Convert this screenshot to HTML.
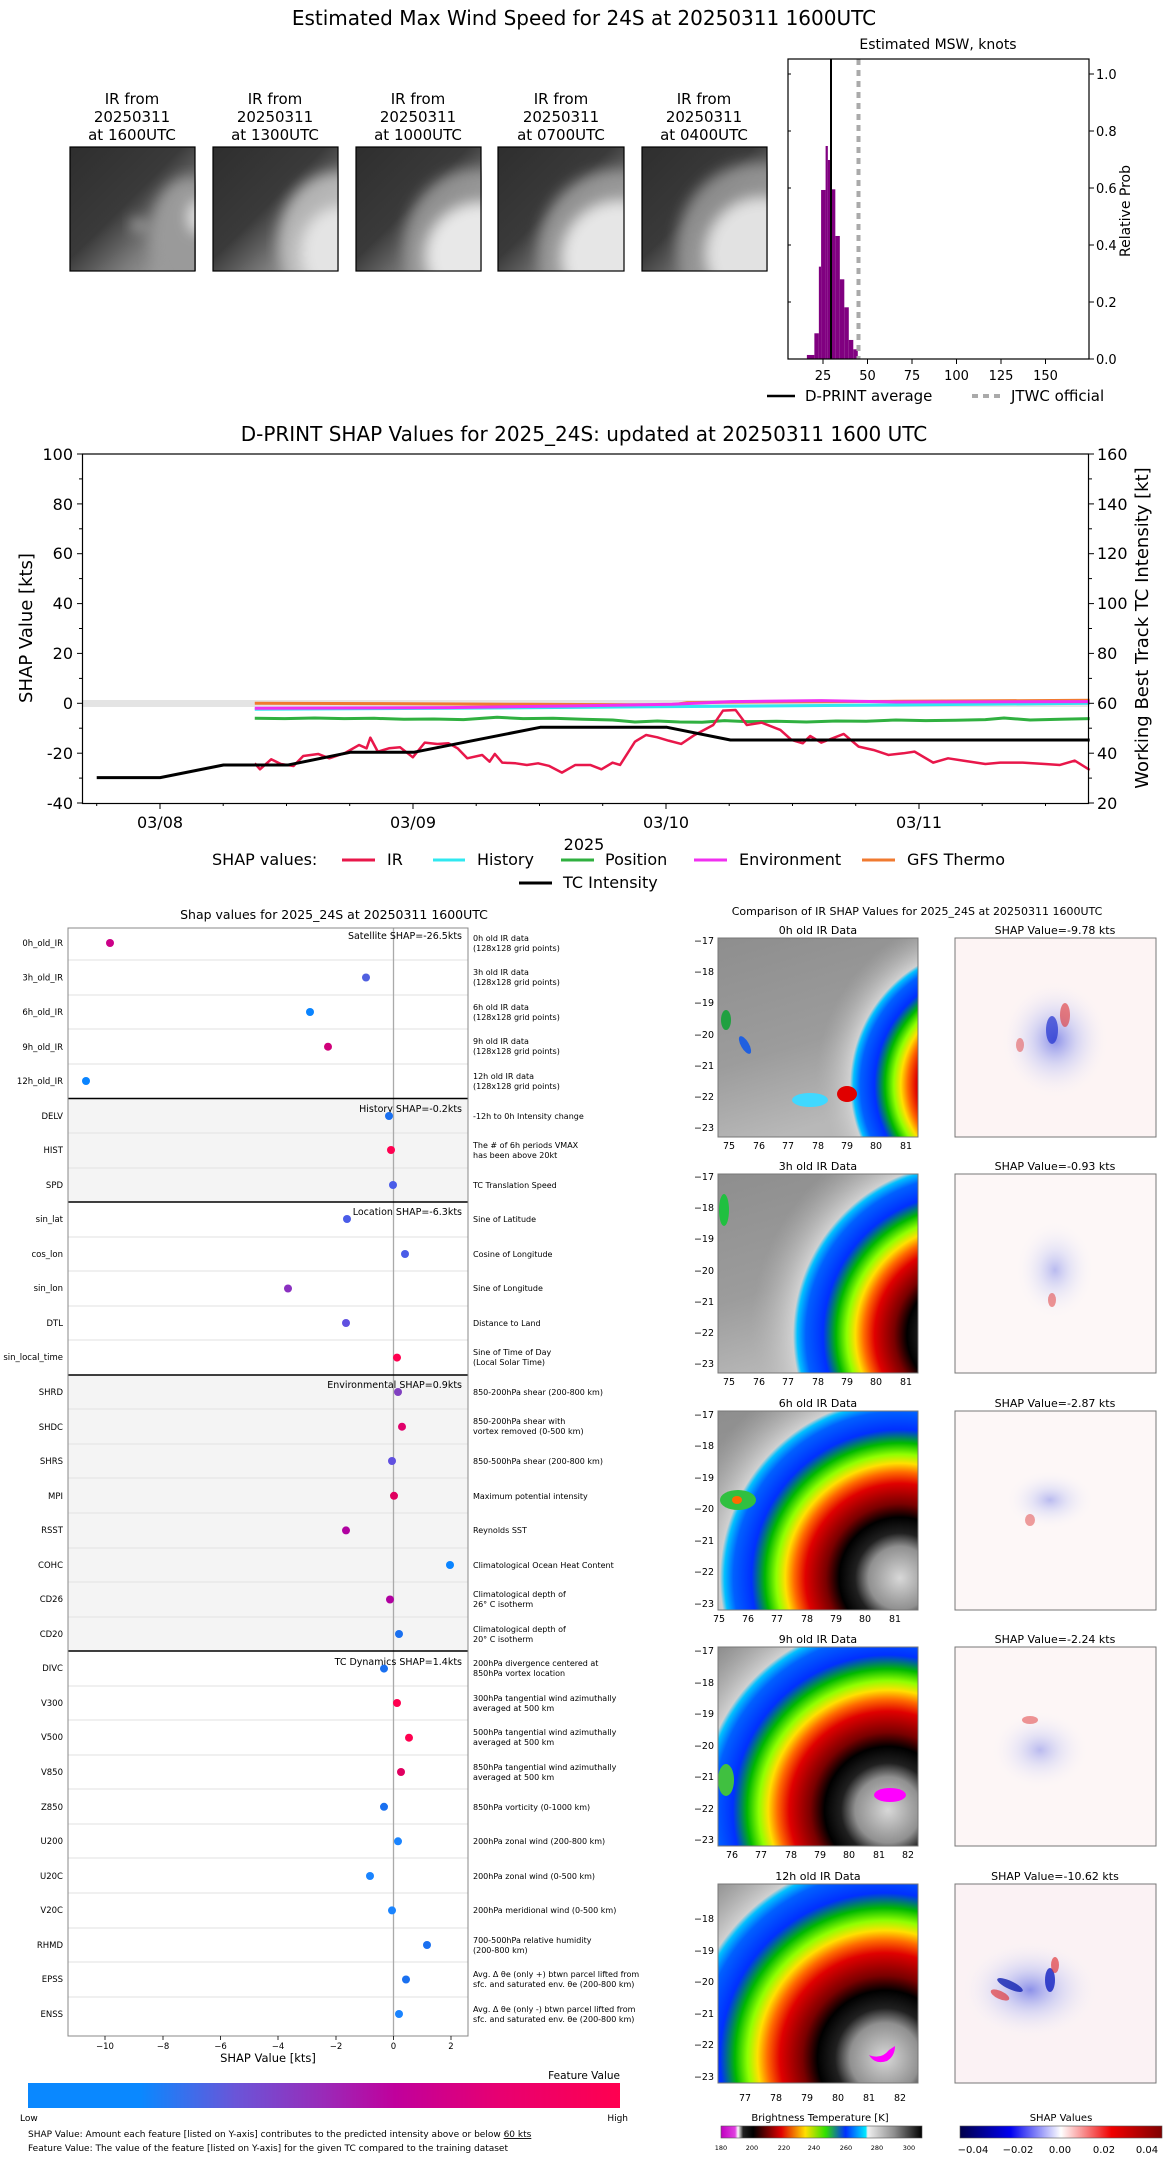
<!DOCTYPE html>
<html><head><meta charset="utf-8"><style>
html,body{margin:0;padding:0;background:#fff;width:1168px;height:2158px;overflow:hidden}
svg{display:block}
text{font-family:"DejaVu Sans","Liberation Sans",sans-serif;fill:#000}
</style></head><body>
<svg width="1168" height="2158" viewBox="0 0 1168 2158" xmlns="http://www.w3.org/2000/svg">
<defs>
<filter id="blur"><feGaussianBlur stdDeviation="7"/></filter>
<linearGradient id="thumb" x1="0" y1="0" x2="1" y2="1"><stop offset="0" stop-color="#2e2e2e"/><stop offset="0.45" stop-color="#3a3a3a"/><stop offset="0.7" stop-color="#7a7a7a"/><stop offset="1" stop-color="#b8b8b8"/></linearGradient>
<linearGradient id="irbg" x1="0" y1="0" x2="0.3" y2="1"><stop offset="0" stop-color="#8e8e8e"/><stop offset="0.6" stop-color="#9c9c9c"/><stop offset="1" stop-color="#b8b8b8"/></linearGradient>
<radialGradient id="storm"><stop offset="0" stop-color="#d8d8d8"/><stop offset="0.14" stop-color="#909090"/><stop offset="0.2" stop-color="#202020"/><stop offset="0.27" stop-color="#000"/><stop offset="0.33" stop-color="#7a0000"/><stop offset="0.42" stop-color="#e00000"/><stop offset="0.47" stop-color="#ff6a00"/><stop offset="0.51" stop-color="#ffe000"/><stop offset="0.55" stop-color="#90ff00"/><stop offset="0.6" stop-color="#00b800"/><stop offset="0.66" stop-color="#0030ff"/><stop offset="0.74" stop-color="#0060ff"/><stop offset="0.78" stop-color="#00c0ff"/><stop offset="0.8" stop-color="#d0d0d0"/><stop offset="1" stop-color="#b0b0b0" stop-opacity="0"/></radialGradient>
<radialGradient id="shapr"><stop offset="0" stop-color="#3040e0" stop-opacity="0.55"/><stop offset="0.4" stop-color="#8090f0" stop-opacity="0.3"/><stop offset="1" stop-color="#fff" stop-opacity="0"/></radialGradient>
<linearGradient id="fv" x1="0" x2="1"><stop offset="0" stop-color="#0a88ff"/><stop offset="0.19" stop-color="#0a88ff"/><stop offset="0.35" stop-color="#6a55d8"/><stop offset="0.5" stop-color="#9a2ab8"/><stop offset="0.62" stop-color="#c0009c"/><stop offset="0.8" stop-color="#e80070"/><stop offset="1" stop-color="#ff0050"/></linearGradient>
<linearGradient id="bt" x1="0" x2="1"><stop offset="0" stop-color="#c000c0"/><stop offset="0.07" stop-color="#e040e0"/><stop offset="0.085" stop-color="#ffffff"/><stop offset="0.11" stop-color="#202020"/><stop offset="0.16" stop-color="#000"/><stop offset="0.3" stop-color="#e00000"/><stop offset="0.42" stop-color="#ffe000"/><stop offset="0.52" stop-color="#30e000"/><stop offset="0.62" stop-color="#0030ff"/><stop offset="0.72" stop-color="#00e8ff"/><stop offset="0.73" stop-color="#f0f0f0"/><stop offset="0.86" stop-color="#909090"/><stop offset="1" stop-color="#000"/></linearGradient>
<linearGradient id="sv" x1="0" x2="1"><stop offset="0" stop-color="#00004a"/><stop offset="0.25" stop-color="#0000f0"/><stop offset="0.5" stop-color="#ffffff"/><stop offset="0.75" stop-color="#f00000"/><stop offset="1" stop-color="#800000"/></linearGradient>
<clipPath id="c1"><rect x="718" y="938" width="200" height="199"/></clipPath>
<clipPath id="c2"><rect x="718" y="1174" width="200" height="199"/></clipPath>
<clipPath id="c3"><rect x="718" y="1411" width="200" height="199"/></clipPath>
<clipPath id="c4"><rect x="718" y="1647" width="200" height="199"/></clipPath>
<clipPath id="c5"><rect x="718" y="1884" width="200" height="199"/></clipPath>
<clipPath id="ct"><rect x="0" y="0" width="126" height="124"/></clipPath>
</defs>

<!-- ===== TOP ===== -->
<text x="584" y="25" font-size="20" text-anchor="middle">Estimated Max Wind Speed for 24S at 20250311 1600UTC</text>
<g font-size="15" text-anchor="middle">
<text x="132" y="104">IR from</text><text x="132" y="122">20250311</text><text x="132" y="140">at 1600UTC</text>
<text x="275" y="104">IR from</text><text x="275" y="122">20250311</text><text x="275" y="140">at 1300UTC</text>
<text x="418" y="104">IR from</text><text x="418" y="122">20250311</text><text x="418" y="140">at 1000UTC</text>
<text x="561" y="104">IR from</text><text x="561" y="122">20250311</text><text x="561" y="140">at 0700UTC</text>
<text x="704" y="104">IR from</text><text x="704" y="122">20250311</text><text x="704" y="140">at 0400UTC</text>
</g>
<g transform="translate(70,147)"><g clip-path="url(#ct)"><rect width="125" height="124" fill="url(#thumb)"/><g filter="url(#blur)"><ellipse cx="120" cy="90" rx="40" ry="60" fill="#9a9a9a"/><ellipse cx="128" cy="70" rx="10" ry="16" fill="#e0e0e0"/><ellipse cx="68" cy="78" rx="6" ry="5" fill="#d0d0d0"/></g></g><rect width="125" height="124" fill="none" stroke="#000" stroke-width="1.2"/></g>
<g transform="translate(213,147)"><g clip-path="url(#ct)"><rect width="125" height="124" fill="url(#thumb)"/><g filter="url(#blur)"><ellipse cx="125" cy="95" rx="60" ry="70" fill="#c8c8c8" opacity="0.8"/><ellipse cx="128" cy="105" rx="40" ry="45" fill="#e4e4e4"/></g></g><rect width="125" height="124" fill="none" stroke="#000" stroke-width="1.2"/></g>
<g transform="translate(356,147)"><g clip-path="url(#ct)"><rect width="125" height="124" fill="url(#thumb)"/><g filter="url(#blur)"><ellipse cx="120" cy="100" rx="72" ry="78" fill="#a0a0a0" opacity="0.8"/><ellipse cx="125" cy="108" rx="55" ry="52" fill="#e8e8e8"/></g></g><rect width="125" height="124" fill="none" stroke="#000" stroke-width="1.2"/></g>
<g transform="translate(498,147)"><g clip-path="url(#ct)"><rect width="126" height="124" fill="url(#thumb)"/><g filter="url(#blur)"><ellipse cx="118" cy="105" rx="78" ry="82" fill="#a0a0a0" opacity="0.85"/><ellipse cx="122" cy="110" rx="58" ry="56" fill="#e6e6e6"/></g></g><rect width="126" height="124" fill="none" stroke="#000" stroke-width="1.2"/></g>
<g transform="translate(642,147)"><g clip-path="url(#ct)"><rect width="125" height="124" fill="url(#thumb)"/><g filter="url(#blur)"><ellipse cx="115" cy="100" rx="80" ry="84" fill="#9a9a9a" opacity="0.85"/><ellipse cx="120" cy="106" rx="56" ry="55" fill="#e2e2e2"/></g></g><rect width="125" height="124" fill="none" stroke="#000" stroke-width="1.2"/></g>

<!-- histogram -->
<text x="938" y="49" font-size="14" text-anchor="middle">Estimated MSW, knots</text>
<g transform="matrix(0.7485 0 0 0.3333 0 0)" fill="#800080">
<rect x="1078" y="1065" width="10" height="13"/><rect x="1088" y="1000" width="6" height="78"/><rect x="1094" y="800" width="3" height="278"/><rect x="1097" y="570" width="6" height="508"/><rect x="1103" y="438" width="3" height="640"/><rect x="1106" y="480" width="4" height="598"/><rect x="1110" y="568" width="6" height="510"/><rect x="1116" y="708" width="6" height="370"/><rect x="1122" y="838" width="6" height="240"/><rect x="1128" y="922" width="6" height="156"/><rect x="1134" y="1020" width="6" height="58"/><rect x="1140" y="1048" width="6" height="30"/>
</g>
<line x1="831" y1="59" x2="831" y2="359" stroke="#000" stroke-width="2"/>
<line x1="858.5" y1="59" x2="858.5" y2="359" stroke="#aaa" stroke-width="4" stroke-dasharray="6,5"/>
<rect x="788" y="59" width="301" height="300" fill="none" stroke="#000" stroke-width="1.2"/>
<g stroke="#000" stroke-width="1"><line x1="823" y1="359" x2="823" y2="364"/><line x1="867.5" y1="359" x2="867.5" y2="364"/><line x1="912" y1="359" x2="912" y2="364"/><line x1="956.5" y1="359" x2="956.5" y2="364"/><line x1="1001" y1="359" x2="1001" y2="364"/><line x1="1045.5" y1="359" x2="1045.5" y2="364"/>
<line x1="1089" y1="359" x2="1094" y2="359"/><line x1="1089" y1="302" x2="1094" y2="302"/><line x1="1089" y1="245" x2="1094" y2="245"/><line x1="1089" y1="188" x2="1094" y2="188"/><line x1="1089" y1="131" x2="1094" y2="131"/><line x1="1089" y1="74" x2="1094" y2="74"/>
<line x1="788" y1="302" x2="791" y2="302"/><line x1="788" y1="245" x2="791" y2="245"/><line x1="788" y1="188" x2="791" y2="188"/><line x1="788" y1="131" x2="791" y2="131"/><line x1="788" y1="74" x2="791" y2="74"/></g>
<g font-size="13" text-anchor="middle"><text x="823" y="380">25</text><text x="867.5" y="380">50</text><text x="912" y="380">75</text><text x="956.5" y="380">100</text><text x="1001" y="380">125</text><text x="1045.5" y="380">150</text></g>
<g font-size="13"><text x="1096" y="364">0.0</text><text x="1096" y="307">0.2</text><text x="1096" y="250">0.4</text><text x="1096" y="193">0.6</text><text x="1096" y="136">0.8</text><text x="1096" y="79">1.0</text></g>
<text transform="translate(1130,211) rotate(-90)" font-size="14" text-anchor="middle">Relative Prob</text>
<line x1="767" y1="396" x2="795" y2="396" stroke="#000" stroke-width="2.5"/>
<text x="805" y="401" font-size="15">D-PRINT average</text>
<line x1="972" y1="396" x2="1000" y2="396" stroke="#aaa" stroke-width="4" stroke-dasharray="6,5"/>
<text x="1011" y="401" font-size="15">JTWC official</text>

<!-- ===== SHAP TIME SERIES ===== -->
<text x="584" y="441" font-size="20" text-anchor="middle">D-PRINT SHAP Values for 2025_24S: updated at 20250311 1600 UTC</text>
<rect x="82.5" y="700" width="1005" height="7" fill="#e4e4e4"/>
<g transform="matrix(0.7455 0 0 0.3333 1.3 440)" fill="none" stroke-linejoin="round">
<polyline vector-effect="non-scaling-stroke" stroke="#f07a30" stroke-width="3" points="340,790 500,791 700,793 900,795 920,788 1000,786 1200,784 1460,781"/>
<polyline vector-effect="non-scaling-stroke" stroke="#30e8f0" stroke-width="3" points="340,808 600,805 900,800 1200,795 1460,790"/>
<polyline vector-effect="non-scaling-stroke" stroke="#f030f0" stroke-width="3" points="340,805 600,803 760,798 900,793 980,785 1100,782 1200,786 1460,785"/>
<polyline vector-effect="non-scaling-stroke" stroke="#30b040" stroke-width="3" points="340,835 380,836 420,834 460,836 500,835 540,838 580,837 620,839 665,832 700,836 740,835 780,838 820,840 850,846 880,843 910,846 940,847 970,842 1000,845 1040,844 1080,846 1120,843 1160,844 1200,840 1240,842 1280,841 1320,839 1345,834 1380,840 1420,838 1460,836"/>
<polyline vector-effect="non-scaling-stroke" stroke="#e8174a" stroke-width="2.5" points="340,970 347,988 362,958 375,972 392,978 405,948 425,942 440,955 462,938 480,915 490,925 495,893 505,935 520,925 535,922 552,952 568,908 585,912 600,910 612,925 625,955 645,945 655,965 662,942 672,968 690,970 705,975 720,970 735,978 752,998 770,975 790,975 805,988 820,968 830,975 850,905 865,885 880,892 895,902 912,912 930,885 955,855 968,812 985,810 1000,855 1020,848 1045,870 1060,900 1075,910 1085,888 1100,908 1130,882 1150,920 1170,930 1190,945 1210,940 1225,935 1250,968 1270,955 1290,962 1320,972 1340,968 1370,968 1400,972 1420,975 1440,962 1460,990"/>
<polyline vector-effect="non-scaling-stroke" stroke="#000" stroke-width="3" points="128,1013 213,1013 298,975 385,975 468,937 553,937 723,862 893,862 978,900 1460,900"/>
</g>
<rect x="82.5" y="454" width="1006" height="349.5" fill="none" stroke="#000" stroke-width="1.2"/>
<g stroke="#000" stroke-width="1">
<line x1="77" y1="454" x2="82.5" y2="454"/><line x1="77" y1="503.9" x2="82.5" y2="503.9"/><line x1="77" y1="553.7" x2="82.5" y2="553.7"/><line x1="77" y1="603.6" x2="82.5" y2="603.6"/><line x1="77" y1="653.4" x2="82.5" y2="653.4"/><line x1="77" y1="703.3" x2="82.5" y2="703.3"/><line x1="77" y1="753.2" x2="82.5" y2="753.2"/><line x1="77" y1="803" x2="82.5" y2="803"/>
<line x1="79" y1="478.9" x2="82.5" y2="478.9"/><line x1="79" y1="528.8" x2="82.5" y2="528.8"/><line x1="79" y1="578.6" x2="82.5" y2="578.6"/><line x1="79" y1="628.5" x2="82.5" y2="628.5"/><line x1="79" y1="678.4" x2="82.5" y2="678.4"/><line x1="79" y1="728.2" x2="82.5" y2="728.2"/><line x1="79" y1="778.1" x2="82.5" y2="778.1"/>
<line x1="1088.5" y1="454" x2="1094" y2="454"/><line x1="1088.5" y1="503.9" x2="1094" y2="503.9"/><line x1="1088.5" y1="553.7" x2="1094" y2="553.7"/><line x1="1088.5" y1="603.6" x2="1094" y2="603.6"/><line x1="1088.5" y1="653.4" x2="1094" y2="653.4"/><line x1="1088.5" y1="703.3" x2="1094" y2="703.3"/><line x1="1088.5" y1="753.2" x2="1094" y2="753.2"/><line x1="1088.5" y1="803" x2="1094" y2="803"/>
<line x1="1088.5" y1="478.9" x2="1092" y2="478.9"/><line x1="1088.5" y1="528.8" x2="1092" y2="528.8"/><line x1="1088.5" y1="578.6" x2="1092" y2="578.6"/><line x1="1088.5" y1="628.5" x2="1092" y2="628.5"/><line x1="1088.5" y1="678.4" x2="1092" y2="678.4"/><line x1="1088.5" y1="728.2" x2="1092" y2="728.2"/><line x1="1088.5" y1="778.1" x2="1092" y2="778.1"/>
<line x1="160" y1="803" x2="160" y2="809"/><line x1="413" y1="803" x2="413" y2="809"/><line x1="666" y1="803" x2="666" y2="809"/><line x1="919" y1="803" x2="919" y2="809"/>
<line x1="96.7" y1="803" x2="96.7" y2="806"/><line x1="223.2" y1="803" x2="223.2" y2="806"/><line x1="286.5" y1="803" x2="286.5" y2="806"/><line x1="349.7" y1="803" x2="349.7" y2="806"/><line x1="476.2" y1="803" x2="476.2" y2="806"/><line x1="539.5" y1="803" x2="539.5" y2="806"/><line x1="602.7" y1="803" x2="602.7" y2="806"/><line x1="729.2" y1="803" x2="729.2" y2="806"/><line x1="792.5" y1="803" x2="792.5" y2="806"/><line x1="855.7" y1="803" x2="855.7" y2="806"/><line x1="982.2" y1="803" x2="982.2" y2="806"/><line x1="1045.5" y1="803" x2="1045.5" y2="806"/>
</g>
<g font-size="16" text-anchor="end"><text x="73" y="460">100</text><text x="73" y="510">80</text><text x="73" y="559">60</text><text x="73" y="609">40</text><text x="73" y="659">20</text><text x="73" y="709">0</text><text x="73" y="759">-20</text><text x="73" y="809">-40</text></g>
<g font-size="16"><text x="1097" y="460">160</text><text x="1097" y="510">140</text><text x="1097" y="559">120</text><text x="1097" y="609">100</text><text x="1097" y="659">80</text><text x="1097" y="709">60</text><text x="1097" y="759">40</text><text x="1097" y="809">20</text></g>
<g font-size="16" text-anchor="middle"><text x="160" y="828">03/08</text><text x="413" y="828">03/09</text><text x="666" y="828">03/10</text><text x="919" y="828">03/11</text><text x="584" y="850">2025</text></g>
<text transform="translate(32,628) rotate(-90)" font-size="18" text-anchor="middle">SHAP Value [kts]</text>
<text transform="translate(1148,628) rotate(-90)" font-size="18" text-anchor="middle">Working Best Track TC Intensity [kt]</text>
<g font-size="16">
<text x="212" y="865">SHAP values:</text>
<line x1="342" y1="860" x2="375" y2="860" stroke="#e8174a" stroke-width="3"/><text x="387" y="865">IR</text>
<line x1="433" y1="860" x2="465" y2="860" stroke="#30e8f0" stroke-width="3"/><text x="477" y="865">History</text>
<line x1="561" y1="860" x2="594" y2="860" stroke="#30b040" stroke-width="3"/><text x="605" y="865">Position</text>
<line x1="694" y1="860" x2="727" y2="860" stroke="#f030f0" stroke-width="3"/><text x="739" y="865">Environment</text>
<line x1="862" y1="860" x2="895" y2="860" stroke="#f07a30" stroke-width="3"/><text x="907" y="865">GFS Thermo</text>
<line x1="519" y1="883" x2="552" y2="883" stroke="#000" stroke-width="3"/><text x="563" y="888">TC Intensity</text>
</g>

<!-- ===== LEFT SHAP PANEL ===== -->
<text x="334" y="919" font-size="12.5" text-anchor="middle">Shap values for 2025_24S at 20250311 1600UTC</text>
<rect x="68" y="1098.5" width="400" height="103.5" fill="#f4f4f4"/>
<rect x="68" y="1375" width="400" height="276" fill="#f4f4f4"/>
<g stroke="#e2e2e2" stroke-width="1">
<line x1="68" y1="960" x2="468" y2="960"/><line x1="68" y1="995" x2="468" y2="995"/><line x1="68" y1="1029" x2="468" y2="1029"/><line x1="68" y1="1064" x2="468" y2="1064"/>
<line x1="68" y1="1133" x2="468" y2="1133"/><line x1="68" y1="1168" x2="468" y2="1168"/>
<line x1="68" y1="1237" x2="468" y2="1237"/><line x1="68" y1="1271" x2="468" y2="1271"/><line x1="68" y1="1306" x2="468" y2="1306"/><line x1="68" y1="1340" x2="468" y2="1340"/>
<line x1="68" y1="1409" x2="468" y2="1409"/><line x1="68" y1="1444" x2="468" y2="1444"/><line x1="68" y1="1478" x2="468" y2="1478"/><line x1="68" y1="1513" x2="468" y2="1513"/><line x1="68" y1="1548" x2="468" y2="1548"/><line x1="68" y1="1582" x2="468" y2="1582"/><line x1="68" y1="1617" x2="468" y2="1617"/>
<line x1="68" y1="1686" x2="468" y2="1686"/><line x1="68" y1="1720" x2="468" y2="1720"/><line x1="68" y1="1755" x2="468" y2="1755"/><line x1="68" y1="1789" x2="468" y2="1789"/><line x1="68" y1="1824" x2="468" y2="1824"/><line x1="68" y1="1858" x2="468" y2="1858"/><line x1="68" y1="1893" x2="468" y2="1893"/><line x1="68" y1="1928" x2="468" y2="1928"/><line x1="68" y1="1962" x2="468" y2="1962"/><line x1="68" y1="1997" x2="468" y2="1997"/>
</g>
<line x1="393.5" y1="928" x2="393.5" y2="2036" stroke="#aaa" stroke-width="1.3"/>
<g stroke="#000" stroke-width="1.6"><line x1="68" y1="1098.5" x2="468" y2="1098.5"/><line x1="68" y1="1202" x2="468" y2="1202"/><line x1="68" y1="1375" x2="468" y2="1375"/><line x1="68" y1="1651" x2="468" y2="1651"/></g>
<rect x="68" y="928" width="400" height="1108" fill="none" stroke="#888" stroke-width="1"/>
<g font-size="9.5" text-anchor="end" fill="#333">
<text x="462" y="939">Satellite SHAP=-26.5kts</text><text x="462" y="1112">History SHAP=-0.2kts</text><text x="462" y="1215">Location SHAP=-6.3kts</text><text x="462" y="1388">Environmental SHAP=0.9kts</text><text x="462" y="1665">TC Dynamics SHAP=1.4kts</text>
</g>
<g font-size="8.5" text-anchor="end" fill="#222">
<text x="63" y="946">0h_old_IR</text><text x="63" y="980.5">3h_old_IR</text><text x="63" y="1015">6h_old_IR</text><text x="63" y="1050">9h_old_IR</text><text x="63" y="1084">12h_old_IR</text><text x="63" y="1119">DELV</text><text x="63" y="1153">HIST</text><text x="63" y="1188">SPD</text><text x="63" y="1222">sin_lat</text><text x="63" y="1257">cos_lon</text><text x="63" y="1291">sin_lon</text><text x="63" y="1326">DTL</text><text x="63" y="1360">sin_local_time</text><text x="63" y="1395">SHRD</text><text x="63" y="1430">SHDC</text><text x="63" y="1464">SHRS</text><text x="63" y="1499">MPI</text><text x="63" y="1533">RSST</text><text x="63" y="1568">COHC</text><text x="63" y="1602">CD26</text><text x="63" y="1637">CD20</text><text x="63" y="1671">DIVC</text><text x="63" y="1706">V300</text><text x="63" y="1740">V500</text><text x="63" y="1775">V850</text><text x="63" y="1810">Z850</text><text x="63" y="1844">U200</text><text x="63" y="1879">U20C</text><text x="63" y="1913">V20C</text><text x="63" y="1948">RHMD</text><text x="63" y="1982">EPSS</text><text x="63" y="2017">ENSS</text>
</g>
<g>
<circle cx="110" cy="943" r="4" fill="#cc0088"/><circle cx="366" cy="977.5" r="4" fill="#5060e0"/><circle cx="310" cy="1012" r="4" fill="#0a84ff"/><circle cx="328" cy="1046.7" r="4" fill="#d0007a"/><circle cx="86" cy="1081" r="4" fill="#0a84ff"/>
<circle cx="389" cy="1116" r="4" fill="#1a70f0"/><circle cx="391" cy="1150" r="4" fill="#ff0050"/><circle cx="393" cy="1185" r="4" fill="#4a5ce8"/>
<circle cx="347" cy="1219" r="4" fill="#4a5ce8"/><circle cx="405" cy="1254" r="4" fill="#4a5ce8"/><circle cx="288" cy="1288.5" r="4" fill="#8a30c0"/><circle cx="346" cy="1323" r="4" fill="#6050e0"/><circle cx="397" cy="1357.6" r="4" fill="#ff0050"/>
<circle cx="398" cy="1392" r="4" fill="#8040c0"/><circle cx="402" cy="1426.7" r="4" fill="#e0006a"/><circle cx="392" cy="1461" r="4" fill="#6050e0"/><circle cx="394" cy="1495.8" r="4" fill="#e00060"/><circle cx="346" cy="1530.4" r="4" fill="#b000a0"/><circle cx="450" cy="1565" r="4" fill="#0a84ff"/><circle cx="390" cy="1599.5" r="4" fill="#b000a0"/><circle cx="399" cy="1634" r="4" fill="#1a70f0"/>
<circle cx="384" cy="1668.6" r="4" fill="#1a70f0"/><circle cx="397" cy="1703" r="4" fill="#ff0050"/><circle cx="409" cy="1737.7" r="4" fill="#ff0050"/><circle cx="401" cy="1772" r="4" fill="#e00060"/><circle cx="384" cy="1806.8" r="4" fill="#1a70f0"/><circle cx="398" cy="1841.3" r="4" fill="#1a84ff"/><circle cx="370" cy="1876" r="4" fill="#1a84ff"/><circle cx="392" cy="1910.4" r="4" fill="#1a84ff"/><circle cx="427" cy="1945" r="4" fill="#1a70f0"/><circle cx="406" cy="1979.5" r="4" fill="#1a70f0"/><circle cx="399" cy="2014" r="4" fill="#1a84ff"/>
</g>
<g font-size="8" fill="#222">
<text x="473" y="941">0h old IR data</text><text x="473" y="951">(128x128 grid points)</text>
<text x="473" y="975">3h old IR data</text><text x="473" y="985">(128x128 grid points)</text>
<text x="473" y="1010">6h old IR data</text><text x="473" y="1020">(128x128 grid points)</text>
<text x="473" y="1044">9h old IR data</text><text x="473" y="1054">(128x128 grid points)</text>
<text x="473" y="1079">12h old IR data</text><text x="473" y="1089">(128x128 grid points)</text>
<text x="473" y="1119">-12h to 0h Intensity change</text>
<text x="473" y="1148">The # of 6h periods VMAX</text><text x="473" y="1158">has been above 20kt</text>
<text x="473" y="1188">TC Translation Speed</text>
<text x="473" y="1222">Sine of Latitude</text><text x="473" y="1257">Cosine of Longitude</text><text x="473" y="1291">Sine of Longitude</text><text x="473" y="1326">Distance to Land</text>
<text x="473" y="1355">Sine of Time of Day</text><text x="473" y="1365">(Local Solar Time)</text>
<text x="473" y="1395">850-200hPa shear (200-800 km)</text>
<text x="473" y="1424">850-200hPa shear with</text><text x="473" y="1434">vortex removed (0-500 km)</text>
<text x="473" y="1464">850-500hPa shear (200-800 km)</text><text x="473" y="1499">Maximum potential intensity</text><text x="473" y="1533">Reynolds SST</text><text x="473" y="1568">Climatological Ocean Heat Content</text>
<text x="473" y="1597">Climatological depth of</text><text x="473" y="1607">26° C isotherm</text>
<text x="473" y="1632">Climatological depth of</text><text x="473" y="1642">20° C isotherm</text>
<text x="473" y="1666">200hPa divergence centered at</text><text x="473" y="1676">850hPa vortex location</text>
<text x="473" y="1701">300hPa tangential wind azimuthally</text><text x="473" y="1711">averaged at 500 km</text>
<text x="473" y="1735">500hPa tangential wind azimuthally</text><text x="473" y="1745">averaged at 500 km</text>
<text x="473" y="1770">850hPa tangential wind azimuthally</text><text x="473" y="1780">averaged at 500 km</text>
<text x="473" y="1810">850hPa vorticity (0-1000 km)</text><text x="473" y="1844">200hPa zonal wind (200-800 km)</text><text x="473" y="1879">200hPa zonal wind (0-500 km)</text><text x="473" y="1913">200hPa meridional wind (0-500 km)</text>
<text x="473" y="1943">700-500hPa relative humidity</text><text x="473" y="1953">(200-800 km)</text>
<text x="473" y="1977">Avg. Δ θe (only +) btwn parcel lifted from</text><text x="473" y="1987">sfc. and saturated env. θe (200-800 km)</text>
<text x="473" y="2012">Avg. Δ θe (only -) btwn parcel lifted from</text><text x="473" y="2022">sfc. and saturated env. θe (200-800 km)</text>
</g>
<g stroke="#000" stroke-width="0.8"><line x1="105" y1="2036" x2="105" y2="2040"/><line x1="163" y1="2036" x2="163" y2="2040"/><line x1="220.5" y1="2036" x2="220.5" y2="2040"/><line x1="278" y1="2036" x2="278" y2="2040"/><line x1="336" y1="2036" x2="336" y2="2040"/><line x1="393.5" y1="2036" x2="393.5" y2="2040"/><line x1="451" y1="2036" x2="451" y2="2040"/></g>
<g font-size="8.5" text-anchor="middle" fill="#222"><text x="105" y="2049">−10</text><text x="163" y="2049">−8</text><text x="220.5" y="2049">−6</text><text x="278" y="2049">−4</text><text x="336" y="2049">−2</text><text x="393.5" y="2049">0</text><text x="451" y="2049">2</text></g>
<text x="268" y="2062" font-size="11.5" text-anchor="middle">SHAP Value [kts]</text>
<text x="620" y="2079" font-size="10.5" text-anchor="end">Feature Value</text>
<rect x="28" y="2083" width="592" height="25" fill="url(#fv)"/>
<text x="20" y="2121" font-size="9">Low</text><text x="628" y="2121" font-size="9" text-anchor="end">High</text>
<text x="28" y="2137" font-size="9">SHAP Value: Amount each feature [listed on Y-axis] contributes to the predicted intensity above or below <tspan text-decoration="underline">60 kts</tspan></text>
<text x="28" y="2151" font-size="9">Feature Value: The value of the feature [listed on Y-axis] for the given TC compared to the training dataset</text>

<!-- ===== RIGHT IR / SHAP PANELS ===== -->
<text x="917" y="915" font-size="11" text-anchor="middle">Comparison of IR SHAP Values for 2025_24S at 20250311 1600UTC</text>
<g font-size="11" text-anchor="middle">
<text x="818" y="934">0h old IR Data</text><text x="1055" y="934">SHAP Value=-9.78 kts</text>
<text x="818" y="1170">3h old IR Data</text><text x="1055" y="1170">SHAP Value=-0.93 kts</text>
<text x="818" y="1407">6h old IR Data</text><text x="1055" y="1407">SHAP Value=-2.87 kts</text>
<text x="818" y="1643">9h old IR Data</text><text x="1055" y="1643">SHAP Value=-2.24 kts</text>
<text x="818" y="1880">12h old IR Data</text><text x="1055" y="1880">SHAP Value=-10.62 kts</text>
</g>
<g clip-path="url(#c1)"><rect x="718" y="938" width="200" height="199" fill="url(#irbg)"/><circle cx="990" cy="1085" r="175" fill="url(#storm)"/><ellipse cx="847" cy="1094" rx="10" ry="8" fill="#e00000"/><ellipse cx="810" cy="1100" rx="18" ry="7" fill="#40d8ff"/><ellipse cx="726" cy="1020" rx="5" ry="10" fill="#20a040"/><ellipse cx="745" cy="1045" rx="4" ry="10" fill="#2060e0" transform="rotate(-30 745 1045)"/></g>
<g clip-path="url(#c2)"><rect x="718" y="1174" width="200" height="199" fill="url(#irbg)"/><circle cx="965" cy="1335" r="215" fill="url(#storm)"/><ellipse cx="724" cy="1210" rx="5" ry="16" fill="#20c040"/></g>
<g clip-path="url(#c3)"><rect x="718" y="1411" width="200" height="199" fill="url(#irbg)"/><circle cx="900" cy="1578" r="225" fill="url(#storm)"/><ellipse cx="738" cy="1500" rx="18" ry="10" fill="#30c040"/><ellipse cx="737" cy="1500" rx="5" ry="4" fill="#ff6a00"/></g>
<g clip-path="url(#c4)"><rect x="718" y="1647" width="200" height="199" fill="url(#irbg)"/><circle cx="888" cy="1810" r="235" fill="url(#storm)"/><ellipse cx="890" cy="1795" rx="16" ry="7" fill="#ff00ff"/><ellipse cx="726" cy="1780" rx="8" ry="16" fill="#40c040"/></g>
<g clip-path="url(#c5)"><rect x="718" y="1884" width="200" height="199" fill="url(#irbg)"/><circle cx="885" cy="2058" r="250" fill="url(#storm)"/><path d="M869 2055 q6 10 18 6 q8 -5 8 -15 l-6 4 q-8 10 -20 5z" fill="#ff00ff"/></g>
<g fill="none" stroke="#777" stroke-width="1"><rect x="718" y="938" width="200" height="199"/><rect x="718" y="1174" width="200" height="199"/><rect x="718" y="1411" width="200" height="199"/><rect x="718" y="1647" width="200" height="199"/><rect x="718" y="1884" width="200" height="199"/></g>
<!-- shap maps -->
<g>
<rect x="955" y="938" width="201" height="199" fill="#fdf4f4"/><ellipse cx="1055" cy="1040" rx="55" ry="60" fill="url(#shapr)"/><ellipse cx="1052" cy="1030" rx="6" ry="14" fill="#2030d0" opacity="0.7"/><ellipse cx="1065" cy="1015" rx="5" ry="12" fill="#e03030" opacity="0.6"/><ellipse cx="1020" cy="1045" rx="4" ry="7" fill="#e04040" opacity="0.5"/>
<rect x="955" y="1174" width="201" height="199" fill="#fdf7f7"/><ellipse cx="1055" cy="1270" rx="40" ry="50" fill="url(#shapr)" opacity="0.6"/><ellipse cx="1052" cy="1300" rx="4" ry="7" fill="#e03030" opacity="0.5"/>
<rect x="955" y="1411" width="201" height="199" fill="#fdf7f7"/><ellipse cx="1050" cy="1500" rx="45" ry="30" fill="url(#shapr)" opacity="0.6"/><ellipse cx="1030" cy="1520" rx="5" ry="6" fill="#e04040" opacity="0.5"/>
<rect x="955" y="1647" width="201" height="199" fill="#fdf6f6"/><ellipse cx="1040" cy="1750" rx="50" ry="40" fill="url(#shapr)" opacity="0.6"/><ellipse cx="1030" cy="1720" rx="8" ry="4" fill="#e03030" opacity="0.5"/>
<rect x="955" y="1884" width="201" height="199" fill="#fbf2f4"/><ellipse cx="1030" cy="1990" rx="70" ry="50" fill="url(#shapr)"/><ellipse cx="1010" cy="1985" rx="14" ry="4" fill="#1020b0" opacity="0.8" transform="rotate(25 1010 1985)"/><ellipse cx="1050" cy="1980" rx="5" ry="12" fill="#1020c0" opacity="0.8"/><ellipse cx="1000" cy="1995" rx="10" ry="4" fill="#e02020" opacity="0.6" transform="rotate(25 1000 1995)"/><ellipse cx="1055" cy="1965" rx="4" ry="8" fill="#e02020" opacity="0.6"/>
</g>
<g fill="none" stroke="#777" stroke-width="1"><rect x="955" y="938" width="201" height="199"/><rect x="955" y="1174" width="201" height="199"/><rect x="955" y="1411" width="201" height="199"/><rect x="955" y="1647" width="201" height="199"/><rect x="955" y="1884" width="201" height="199"/></g>
<g font-size="9.5" text-anchor="end" fill="#222">
<text x="714" y="944">−17</text><text x="714" y="975">−18</text><text x="714" y="1006">−19</text><text x="714" y="1038">−20</text><text x="714" y="1069">−21</text><text x="714" y="1100">−22</text><text x="714" y="1131">−23</text>
<text x="714" y="1180">−17</text><text x="714" y="1211">−18</text><text x="714" y="1242">−19</text><text x="714" y="1274">−20</text><text x="714" y="1305">−21</text><text x="714" y="1336">−22</text><text x="714" y="1367">−23</text>
<text x="714" y="1418">−17</text><text x="714" y="1449">−18</text><text x="714" y="1481">−19</text><text x="714" y="1512">−20</text><text x="714" y="1544">−21</text><text x="714" y="1575">−22</text><text x="714" y="1607">−23</text>
<text x="714" y="1654">−17</text><text x="714" y="1686">−18</text><text x="714" y="1717">−19</text><text x="714" y="1749">−20</text><text x="714" y="1780">−21</text><text x="714" y="1812">−22</text><text x="714" y="1843">−23</text>
<text x="714" y="1922">−18</text><text x="714" y="1954">−19</text><text x="714" y="1985">−20</text><text x="714" y="2017">−21</text><text x="714" y="2048">−22</text><text x="714" y="2080">−23</text>
</g>
<g font-size="9.5" text-anchor="middle" fill="#222">
<text x="729" y="1149">75</text><text x="759" y="1149">76</text><text x="788" y="1149">77</text><text x="818" y="1149">78</text><text x="847" y="1149">79</text><text x="876" y="1149">80</text><text x="906" y="1149">81</text>
<text x="729" y="1385">75</text><text x="759" y="1385">76</text><text x="788" y="1385">77</text><text x="818" y="1385">78</text><text x="847" y="1385">79</text><text x="876" y="1385">80</text><text x="906" y="1385">81</text>
<text x="719" y="1622">75</text><text x="748" y="1622">76</text><text x="777" y="1622">77</text><text x="807" y="1622">78</text><text x="836" y="1622">79</text><text x="865" y="1622">80</text><text x="895" y="1622">81</text>
<text x="732" y="1858">76</text><text x="761" y="1858">77</text><text x="791" y="1858">78</text><text x="820" y="1858">79</text><text x="849" y="1858">80</text><text x="879" y="1858">81</text><text x="908" y="1858">82</text>
<text x="745" y="2101">77</text><text x="776" y="2101">78</text><text x="807" y="2101">79</text><text x="838" y="2101">80</text><text x="869" y="2101">81</text><text x="900" y="2101">82</text>
</g>
<!-- colorbars -->
<text x="820" y="2121" font-size="10" text-anchor="middle">Brightness Temperature [K]</text>
<rect x="721" y="2126" width="201" height="12" fill="url(#bt)" stroke="#555" stroke-width="0.6"/>
<g font-size="6.5" text-anchor="middle" fill="#222"><text x="721" y="2150">180</text><text x="752" y="2150">200</text><text x="784" y="2150">220</text><text x="814" y="2150">240</text><text x="846" y="2150">260</text><text x="877" y="2150">280</text><text x="909" y="2150">300</text></g>
<text x="1061" y="2121" font-size="10" text-anchor="middle">SHAP Values</text>
<rect x="960" y="2126" width="202" height="12" fill="url(#sv)" stroke="#555" stroke-width="0.6"/>
<g font-size="10" text-anchor="middle" fill="#222"><text x="973" y="2153">−0.04</text><text x="1018" y="2153">−0.02</text><text x="1060" y="2153">0.00</text><text x="1104" y="2153">0.02</text><text x="1147" y="2153">0.04</text></g>
</svg>
</body></html>
